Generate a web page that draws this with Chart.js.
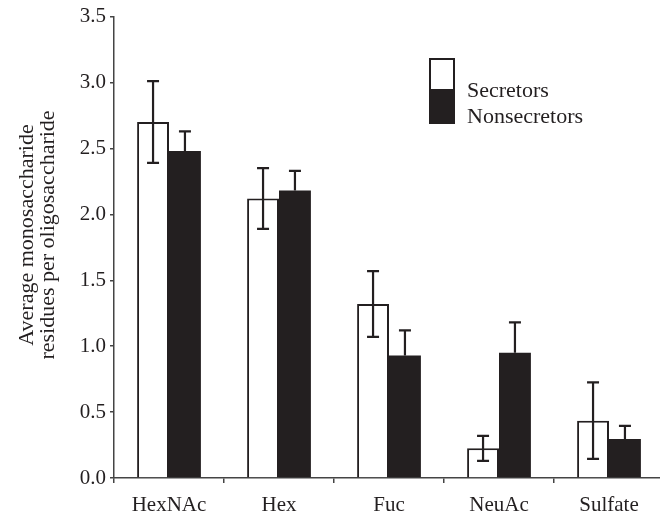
<!DOCTYPE html>
<html>
<head>
<meta charset="utf-8">
<script src="https://cdn.jsdelivr.net/npm/chart.js@4"></script>
<style>
  html, body { margin: 0; padding: 0; background: #fff; overflow: hidden; }
  #wrap { width: 660px; height: 519px; overflow: hidden; }
</style>
</head>
<body>
<div id="wrap"><canvas id="chart" width="664" height="519"></canvas></div>
<script>
// data
const categories = ["HexNAc", "Hex", "Fuc", "NeuAc", "Sulfate"];
const secretors = [2.70, 2.12, 1.32, 0.225, 0.435];
const secretorsErr = [0.31, 0.23, 0.25, 0.095, 0.29];
const nonsecretors = [2.48, 2.18, 0.93, 0.95, 0.295];
const nonsecretorsErr = [0.15, 0.15, 0.19, 0.23, 0.10];
const seriesNames = ["Secretors", "Nonsecretors"];

const ink = "#231f20";
const serif = "'Liberation Serif', 'Times New Roman', serif";

// error bars, drawn through the y scale
const errorBars = {
  id: "errorBars",
  afterDatasetsDraw(chart) {
    const ctx = chart.ctx;
    const y = chart.scales.y;
    const errs = [secretorsErr, nonsecretorsErr];
    ctx.save();
    ctx.strokeStyle = ink;
    ctx.lineWidth = 2.2;
    chart.data.datasets.forEach((ds, i) => {
      const meta = chart.getDatasetMeta(i);
      meta.data.forEach((bar, j) => {
        const v = ds.data[j];
        const e = errs[i][j];
        const top = y.getPixelForValue(v + e);
        const bot = i === 0 ? y.getPixelForValue(v - e) : y.getPixelForValue(v);
        const cap = 6;
        ctx.beginPath();
        ctx.moveTo(bar.x, top);
        ctx.lineTo(bar.x, bot);
        ctx.moveTo(bar.x - cap, top);
        ctx.lineTo(bar.x + cap, top);
        if (i === 0) {
          ctx.moveTo(bar.x - cap, bot);
          ctx.lineTo(bar.x + cap, bot);
        }
        ctx.stroke();
      });
    });
    ctx.restore();
  }
};

// stacked legend box and the two-line y title
const extras = {
  id: "extras",
  afterDraw(chart) {
    const ctx = chart.ctx;
    ctx.save();
    ctx.fillStyle = ink;
    ctx.fillRect(429, 89, 26, 35);
    ctx.strokeStyle = ink;
    ctx.lineWidth = 2;
    ctx.strokeRect(430, 59, 24, 31);
    ctx.font = "22px " + serif;
    ctx.textAlign = "left";
    ctx.textBaseline = "alphabetic";
    ctx.fillText(seriesNames[0], 467, 97);
    ctx.fillText(seriesNames[1], 467, 123);

    ctx.textAlign = "center";
    ctx.translate(33, 235);
    ctx.rotate(-Math.PI / 2);
    ctx.fillText("Average monosaccharide", 0, 0);
    ctx.fillText("residues per oligosaccharide", 0, 21);
    ctx.restore();
  }
};

new Chart(document.getElementById("chart"), {
  type: "bar",
  data: {
    labels: categories,
    datasets: [
      {
        label: seriesNames[0],
        data: secretors,
        backgroundColor: "#ffffff",
        borderColor: ink,
        borderWidth: 2,
        categoryPercentage: 0.58,
        barPercentage: 1.0
      },
      {
        label: seriesNames[1],
        data: nonsecretors,
        backgroundColor: ink,
        borderWidth: 0,
        categoryPercentage: 0.58,
        barPercentage: 1.0
      }
    ]
  },
  options: {
    responsive: false,
    animation: false,
    layout: { padding: { top: 16, left: 0, right: 0, bottom: 0 } },
    plugins: {
      legend: { display: false },
      tooltip: { enabled: false }
    },
    scales: {
      x: {
        grid: { offset: true, drawOnChartArea: false, drawTicks: true, tickLength: 5, color: "#444", lineWidth: 1.5 },
        border: { display: true, color: "#444", width: 1.5 },
        ticks: { color: ink, font: { family: serif, size: 21 }, padding: 10 },
        afterFit(scale) { scale.height = 41; }
      },
      y: {
        min: 0,
        max: 3.5,
        grid: { drawOnChartArea: false, drawTicks: true, tickLength: 4, color: "#444", lineWidth: 1.5 },
        border: { display: true, color: "#444", width: 1.5 },
        ticks: {
          stepSize: 0.5,
          color: ink,
          padding: 4,
          font: { family: serif, size: 21 },
          callback: (v) => Number(v).toFixed(1)
        },
        afterFit(scale) { scale.width = 114; }
      }
    }
  },
  plugins: [errorBars, extras]
});
</script>
</body>
</html>
